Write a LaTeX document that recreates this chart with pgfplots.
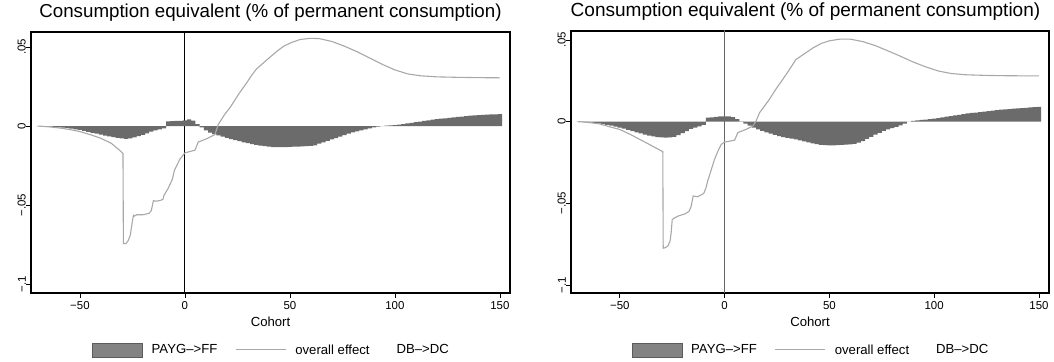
\documentclass[border=0pt]{standalone}
\usepackage{fontspec}
\setmainfont{Liberation Sans}
\usepackage{pgfplots}
\pgfplotsset{compat=1.18}
\definecolor{barcol}{HTML}{6B6B6B}
\definecolor{linecol}{HTML}{A8A8A8}
\definecolor{legfill}{HTML}{838383}
\definecolor{legdraw}{HTML}{5C5C5C}

\pgfplotstableread{
x y
-70 0
-68 -0.0001
-66 -0.0002
-64 -0.0004
-62 -0.0006
-60 -0.0008
-58 -0.0011
-56 -0.0014
-54 -0.0017
-52 -0.0021
-50 -0.0025
-48 -0.0031
-46 -0.0037
-44 -0.0043
-42 -0.0049
-40 -0.0055
-38 -0.0061
-36 -0.0066
-34 -0.0071
-32 -0.0075
-30 -0.0079
-28 -0.0082
-26 -0.0078
-24 -0.0072
-22 -0.0064
-20 -0.0056
-18 -0.0046
-16 -0.0035
-14 -0.0028
-12 -0.0021
-10 -0.0015
-8 0.0030
-6 0.0031
-4 0.0032
-2 0.0033
0 0.0035
2 0.0042
4 0.0034
6 0.0012
8 -0.0008
10 -0.0028
12 -0.0042
14 -0.0052
16 -0.0060
18 -0.0068
20 -0.0075
22 -0.0083
24 -0.0090
26 -0.0096
28 -0.0103
30 -0.0109
32 -0.0115
34 -0.0120
36 -0.0124
38 -0.0128
40 -0.0131
42 -0.0133
44 -0.0134
46 -0.0134
48 -0.0133
50 -0.0132
52 -0.0131
54 -0.0130
56 -0.0129
58 -0.0128
60 -0.0126
62 -0.0122
64 -0.0112
66 -0.0103
68 -0.0094
70 -0.0085
72 -0.0076
74 -0.0067
76 -0.0058
78 -0.0048
80 -0.0041
82 -0.0034
84 -0.0027
86 -0.0021
88 -0.0015
90 -0.0009
92 -0.0004
94 0.0000
96 0.0002
98 0.0004
100 0.0006
102 0.0008
104 0.0012
106 0.0016
108 0.0020
110 0.0024
112 0.0028
114 0.0032
116 0.0036
118 0.0040
120 0.0043
122 0.0046
124 0.0049
126 0.0052
128 0.0055
130 0.0058
132 0.0060
134 0.0063
136 0.0065
138 0.0067
140 0.0069
142 0.0070
144 0.0072
146 0.0073
148 0.0074
150 0.0075
}\barsA

\pgfplotstableread{
x y
-70 0
-65 -0.0005
-60 -0.0012
-55 -0.0022
-50 -0.0035
-45 -0.0055
-40 -0.0078
-35 -0.0110
-31 -0.0155
-29.5 -0.0174
-29.3 -0.0745
-28 -0.0743
-27 -0.0725
-26 -0.0690
-25 -0.0600
-24.5 -0.0565
-24 -0.0570
-23 -0.0562
-20 -0.0562
-17 -0.0552
-16 -0.0535
-15 -0.0472
-14 -0.0476
-12 -0.0472
-10.5 -0.0465
-10 -0.0440
-8 -0.0395
-6 -0.0338
-5 -0.0280
-2.4 -0.0210
0 -0.0170
4.8 -0.0153
6.3 -0.0102
10.3 -0.0081
14.3 -0.0054
15.9 0.0010
19 0.0075
21.4 0.0115
23 0.0148
26 0.0210
29.5 0.0275
32 0.0325
34 0.0360
37 0.0395
40 0.0430
44 0.0475
47 0.0505
51 0.0530
55 0.0548
60 0.0555
64 0.0553
70 0.0535
76 0.0505
82 0.0470
88 0.0430
94 0.0390
100 0.0355
106 0.0330
112 0.0318
120 0.0311
130 0.0308
140 0.0306
150 0.0305
}\lineA

\pgfplotstableread{
x y
-70 0
-68 -0.0001
-66 -0.0003
-64 -0.0005
-62 -0.0008
-60 -0.0011
-58 -0.0015
-56 -0.0019
-54 -0.0024
-52 -0.0030
-50 -0.0036
-48 -0.0042
-46 -0.0050
-44 -0.0058
-42 -0.0065
-40 -0.0072
-38 -0.0079
-36 -0.0085
-34 -0.0090
-32 -0.0094
-30 -0.0097
-28 -0.0098
-26 -0.0097
-24 -0.0093
-22 -0.0083
-20 -0.0071
-18 -0.0058
-16 -0.0045
-14 -0.0036
-12 -0.0029
-10 -0.0020
-8 0.0024
-6 0.0026
-4 0.0029
-2 0.0032
0 0.0033
2 0.0033
4 0.0027
6 0.0015
8 0.0002
10 -0.0012
12 -0.0025
14 -0.0036
16 -0.0047
18 -0.0057
20 -0.0066
22 -0.0074
24 -0.0081
26 -0.0088
28 -0.0094
30 -0.0099
32 -0.0104
34 -0.0109
36 -0.0115
38 -0.0121
40 -0.0127
42 -0.0133
44 -0.0138
46 -0.0142
48 -0.0144
50 -0.0145
52 -0.0145
54 -0.0144
56 -0.0142
58 -0.0141
60 -0.0139
62 -0.0136
64 -0.0129
66 -0.0119
68 -0.0106
70 -0.0093
72 -0.0080
74 -0.0068
76 -0.0057
78 -0.0048
80 -0.0040
82 -0.0032
84 -0.0023
86 -0.0012
88 0.0000
90 0.0004
92 0.0008
94 0.0011
96 0.0013
98 0.0016
100 0.0019
102 0.0022
104 0.0026
106 0.0030
108 0.0034
110 0.0038
112 0.0042
114 0.0046
116 0.0050
118 0.0053
120 0.0056
122 0.0059
124 0.0062
126 0.0065
128 0.0068
130 0.0071
132 0.0073
134 0.0075
136 0.0077
138 0.0079
140 0.0081
142 0.0083
144 0.0085
146 0.0087
148 0.0089
150 0.0091
}\barsB

\pgfplotstableread{
x y
-70 0
-65 -0.0005
-60 -0.0013
-55 -0.0031
-50 -0.0048
-45 -0.0078
-40 -0.0112
-37 -0.0132
-33 -0.0160
-30 -0.0180
-29.5 -0.0183
-29.3 -0.0775
-28 -0.0770
-27 -0.0760
-26 -0.0730
-25.5 -0.0680
-25 -0.0600
-24 -0.0590
-22 -0.0577
-19 -0.0565
-17 -0.0550
-16 -0.0520
-15 -0.0455
-13 -0.0460
-10 -0.0440
-9 -0.0410
-8 -0.0360
-6.5 -0.0300
-4.8 -0.0230
-3 -0.0175
-1.6 -0.0139
0 -0.0125
3 -0.0118
4.8 -0.0113
6.3 -0.0067
10.3 -0.0047
13.5 -0.0027
15 0.0004
16.7 0.0055
19 0.0095
21.4 0.0137
24 0.0190
27.6 0.0256
31 0.0320
34 0.0380
38 0.0415
42 0.0450
46 0.0478
50 0.0495
55 0.0505
60 0.0505
66 0.0490
72 0.0465
78 0.0433
84 0.0400
90 0.0365
96 0.0335
102 0.0310
108 0.0295
115 0.0287
125 0.0283
135 0.0281
150 0.0280
}\lineB

\pgfplotsset{
  stata/.style={
    scale only axis,
    xmin=-73.3, xmax=154.8,
    axis line style={line width=1.1bp},
    every tick/.style={line width=0.8bp, black},
    major tick length=5bp,
    tick align=outside,
    xtick pos=bottom, ytick pos=left,
    xtick={-50,0,50,100,150},
    xticklabels={−50,0,50,100,150},
    ytick={-0.1,-0.05,0,0.05},
    yticklabels={−.1,−.05,0,.05},
    ticklabel style={font=\fontsize{11.5}{13}\selectfont},
    yticklabel style={rotate=90, anchor=south, inner sep=0pt},
    xlabel={Cohort},
    xlabel style={font=\fontsize{13.2}{15}\selectfont, at={(axis description cs:0.5,0)}, anchor=base, yshift=-34bp},
    title={Consumption equivalent (\% of permanent consumption)},
    title style={at={(axis description cs:0.5,1)}, anchor=base, yshift=8.7bp},
    legend columns=3,
    legend style={draw=none, fill=none, at={(axis description cs:0.5,0)}, anchor=center, yshift=-57bp,
      font=\fontsize{13.2}{15}\selectfont,
      /tikz/every odd column/.style={column sep=9bp},
      /tikz/every even column/.style={column sep=18bp},
      /tikz/column 4/.style={column sep=9bp},
      nodes={inner sep=0pt}},
    legend cell align=left,
  },
  barleg/.style={legend image code/.code={\draw[fill=legfill, draw=legdraw, line width=0.6bp] (0bp,-7bp) rectangle (50bp,7bp);}},
  lineleg/.style={legend image code/.code={\draw[linecol, line width=1bp] (0bp,0bp) -- (50bp,0bp);}},
}

\begin{document}
\begin{tikzpicture}
\path[use as bounding box] (0,0) rectangle (1054bp,362bp);
\begin{axis}[stata, at={(31bp,69bp)}, anchor=south west, width=479bp, height=261bp,
  ymin=-0.1057, ymax=0.0595, title style={font=\fontsize{18.8}{22}\selectfont}]
  \addplot[black, line width=0.9bp, forget plot] coordinates {(0,-0.2) (0,0.2)};
  \addplot[ybar, bar width=2, bar shift=0, fill=barcol, draw=none, barleg] table {\barsA};
  \addlegendentry{PAYG\textendash{}>FF}
  \addplot[linecol, line width=1.1bp, lineleg] table {\lineA};
  \addlegendentry{overall effect}
  \addlegendimage{empty legend}
  \addlegendentry{DB\textendash{}>DC}
\end{axis}
\begin{axis}[stata, at={(571bp,69bp)}, anchor=south west, width=478bp, height=262bp,
  ymin=-0.1049, ymax=0.0555, title style={font=\fontsize{19.1}{22}\selectfont, xshift=-4.5bp}]
  \addplot[black!60, line width=1.3bp, forget plot] coordinates {(0,-0.2) (0,0.2)};
  \addplot[ybar, bar width=2, bar shift=0, fill=barcol, draw=none, barleg] table {\barsB};
  \addlegendentry{PAYG\textendash{}>FF}
  \addplot[linecol, line width=1.1bp, lineleg] table {\lineB};
  \addlegendentry{overall effect}
  \addlegendimage{empty legend}
  \addlegendentry{DB\textendash{}>DC}
\end{axis}
\end{tikzpicture}
\end{document}
